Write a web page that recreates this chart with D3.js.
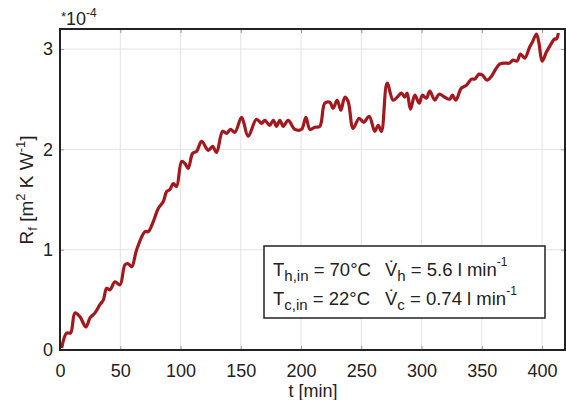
<!DOCTYPE html>
<html><head><meta charset="utf-8">
<script src="https://cdn.jsdelivr.net/npm/d3@7"></script>
<style>body{margin:0;background:#fff}svg{display:block}text{font-family:"Liberation Sans",Arial,sans-serif;fill:#222}</style>
</head><body><svg id="c" width="566" height="400"></svg>
<script>
const timeMin = [1.4,5.5,8.8,12.4,16.6,21.5,24.9,29,33,36,38.7,41.5,45.6,49.8,53.9,56.6,59.5,63.6,70.5,73.2,77.4,81.5,85.7,88.5,91.2,94,96.7,100.9,103.6,106.4,110,113.3,117.5,123,126.6,129.9,134.9,138.2,141.5,145.1,150.7,156.1,163,167.2,170,174,177,179.7,182.4,185.2,189.3,194.9,200.4,204,207.3,211.4,215.6,219.7,223.9,226.6,230,233,236.3,239,243.2,248.2,252,256.5,261.2,264,266.7,271.4,276.4,280.5,283.3,286,288,290.8,294.4,298,300.7,304,306.8,311,314.5,319.2,323.4,325.6,328.4,333,337.2,341.4,344.1,347.7,350.5,354.3,358,361.5,364.8,369,373,375.9,379.2,382,385.6,389.7,392,395.3,397.4,400,403.6,406.9,410.4,411.9,413.5];
const foulingR = [0.02,0.17,0.17,0.37,0.33,0.23,0.32,0.37,0.45,0.50,0.615,0.60,0.68,0.65,0.85,0.86,0.83,1.0,1.18,1.18,1.28,1.41,1.48,1.58,1.60,1.66,1.63,1.88,1.86,1.81,1.96,1.98,2.08,1.99,2.03,1.97,2.18,2.16,2.20,2.17,2.32,2.13,2.30,2.26,2.29,2.24,2.29,2.23,2.29,2.23,2.29,2.20,2.20,2.32,2.20,2.22,2.23,2.46,2.47,2.41,2.49,2.39,2.52,2.48,2.21,2.31,2.27,2.33,2.18,2.24,2.18,2.66,2.49,2.53,2.56,2.52,2.56,2.40,2.54,2.46,2.54,2.51,2.58,2.49,2.55,2.52,2.50,2.54,2.49,2.61,2.64,2.70,2.70,2.75,2.74,2.69,2.73,2.80,2.85,2.86,2.86,2.89,2.88,2.95,2.91,3.02,3.07,3.15,3.06,2.88,2.97,3.04,3.10,3.10,3.16];
const xTicks = [0,50,100,150,200,250,300,350,400];
const yTicks = [0,1,2,3];

const svg = d3.select("#c");
const L=60, R=565, T=29, B=350;
const x = d3.scaleLinear().domain([0,419]).range([L,R]);
const y = d3.scaleLinear().domain([0,3.2]).range([B,T]);

// grid
svg.append("g").selectAll("line").data(xTicks.filter(d=>d>0)).join("line")
  .attr("x1",d=>x(d)).attr("x2",d=>x(d)).attr("y1",T).attr("y2",B)
  .attr("stroke","#e4e4e4").attr("stroke-width",1);
svg.append("g").selectAll("line").data(yTicks.filter(d=>d>0)).join("line")
  .attr("x1",L).attr("x2",R).attr("y1",d=>y(d)).attr("y2",d=>y(d))
  .attr("stroke","#e4e4e4").attr("stroke-width",1);

// axes (inward ticks)
const fs = 18;
const gx = svg.append("g").attr("transform",`translate(0,${B})`)
  .call(d3.axisBottom(x).tickValues(xTicks).tickSize(-4).tickPadding(14).tickFormat(d3.format("d")));
const gxt = svg.append("g").attr("transform",`translate(0,${T})`)
  .call(d3.axisTop(x).tickValues(xTicks).tickSize(-4).tickFormat(""));
const gy = svg.append("g").attr("transform",`translate(${L},0)`)
  .call(d3.axisLeft(y).tickValues(yTicks).tickSize(-4).tickPadding(7).tickFormat(d3.format("d")));
const gyr = svg.append("g").attr("transform",`translate(${R},0)`)
  .call(d3.axisRight(y).tickValues(yTicks).tickSize(-4).tickFormat(""));
[gx,gxt,gy,gyr].forEach(g=>{
  g.select(".domain").remove();
  g.selectAll(".tick line").attr("stroke","#999");
  g.selectAll("text").attr("font-size",fs).attr("font-family","Liberation Sans, Arial, sans-serif").attr("fill","#222");
});

// line
const line = d3.line().x((d,i)=>x(timeMin[i])).y(d=>y(d)).curve(d3.curveCatmullRom.alpha(0.5));
svg.append("path").datum(foulingR).attr("d",line)
  .attr("fill","none").attr("stroke","#a3171d").attr("stroke-width",3.2).attr("stroke-linejoin","round");

// frame
svg.append("rect").attr("x",L).attr("y",T).attr("width",R-L).attr("height",B-T)
  .attr("fill","none").attr("stroke","#222").attr("stroke-width",2);

// exponent label
const ex = svg.append("text").attr("x",61).attr("y",25).attr("font-size",18);
ex.append("tspan").attr("font-size",13).attr("dy",-4).text("*");
ex.append("tspan").attr("dy",4).text("10");
ex.append("tspan").attr("font-size",12).attr("dy",-8).text("-4");

// x label
svg.append("text").attr("x",313).attr("y",397).attr("text-anchor","middle").attr("font-size",18).text("t [min]");

// y label
const yl = svg.append("text").attr("transform","translate(33,190) rotate(-90)").attr("text-anchor","middle").attr("font-size",19);
yl.append("tspan").text("R");
yl.append("tspan").attr("font-size",13).attr("dy",4).text("f");
yl.append("tspan").attr("dy",-4).text(" [m");
yl.append("tspan").attr("font-size",13).attr("dy",-8).text("2");
yl.append("tspan").attr("dy",8).text(" K W");
yl.append("tspan").attr("font-size",13).attr("dy",-8).text("-1");
yl.append("tspan").attr("dy",8).text("]");

// legend box
svg.append("rect").attr("x",264).attr("y",246).attr("width",281).attr("height",72)
  .attr("fill","#fff").attr("stroke","#222").attr("stroke-width",1.5);
function legLine(yy, sub1, val1, sub2, val2){
  const t = svg.append("text").attr("x",273).attr("y",yy).attr("font-size",18.5);
  t.append("tspan").text("T");
  t.append("tspan").attr("font-size",15).attr("dy",5).text(sub1);
  t.append("tspan").attr("dy",-5).text(" = "+val1);
  const t2 = svg.append("text").attr("x",385).attr("y",yy).attr("font-size",18.5);
  t2.append("tspan").text("V\u0307");
  t2.append("tspan").attr("font-size",15).attr("dy",5).text(sub2);
  t2.append("tspan").attr("dy",-5).text(" = "+val2+" l min");
  t2.append("tspan").attr("font-size",12).attr("dy",-10).text("-1");
}
legLine(276,"h,in","70°C","h","5.6");
legLine(305,"c,in","22°C","c","0.74");
</script></body></html>
